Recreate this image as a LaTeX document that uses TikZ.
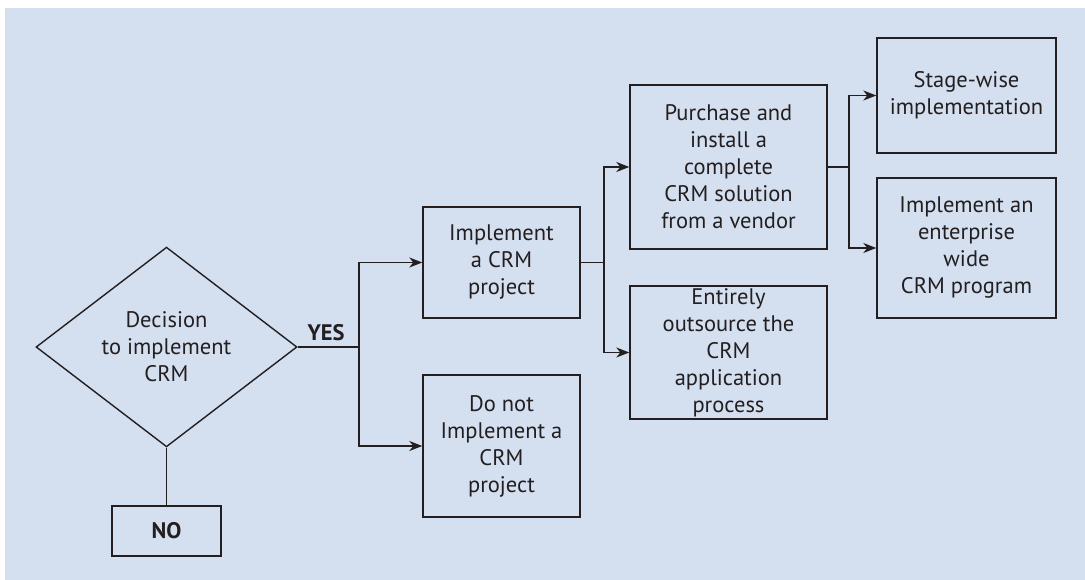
\documentclass[tikz,border=0pt]{standalone}
\usepackage{fontspec}
\setmainfont{PT Sans}
\usetikzlibrary{shapes.geometric,arrows.meta}
\definecolor{bg}{HTML}{D4DFF0}
\definecolor{ink}{HTML}{231F20}
\begin{document}
\begin{tikzpicture}[x=1pt,y=-1pt,
 box/.style={draw=ink,line width=1.4pt,align=center,text=ink,inner sep=0pt,font=\fontsize{22.5}{27}\selectfont},
 lbl/.style={text=ink,inner sep=0pt,font=\fontsize{22.5}{27}\selectfont\bfseries},
 conn/.style={draw=ink,line width=1.4pt},
 arr/.style={conn,-{Stealth[length=13pt,width=10pt,inset=4pt]}}]
\useasboundingbox (0,0) rectangle (1085,580);
\fill[bg] (5,8) rectangle (1085,580);
\node[box,diamond,minimum width=261,minimum height=198] (dec) at (166.5,347) {Decision\\to implement\\CRM};
\node[box,minimum width=109,minimum height=50] (no) at (166.5,531) {\bfseries NO};
\node[box,minimum width=157,minimum height=111] (impl) at (501.5,262.5) {Implement\\a CRM\\project};
\node[box,minimum width=157,minimum height=142] (dont) at (501.5,446) {Do not\\Implement a\\CRM\\project};
\node[box,minimum width=197,minimum height=164] (buy) at (728.5,167) {Purchase and\\install a\\complete\\CRM solution\\from a vendor};
\node[box,minimum width=197,minimum height=133] (out) at (728.5,352.5) {Entirely\\outsource the\\CRM\\application\\process};
\node[box,minimum width=179,minimum height=115] (stage) at (966.5,95.5) {Stage-wise\\implementation};
\node[box,minimum width=179,minimum height=140] (ent) at (966.5,248) {Implement an\\enterprise\\wide\\CRM program};
\node[lbl] (yes) at (326,333) {YES};
\coordinate (j1) at (359,347);
\coordinate (j2) at (604,262.5);
\coordinate (j3) at (849,167);
\draw[conn] (dec.east) -- (j1);
\draw[arr] (j1) |- (impl.west);
\draw[arr] (j1) |- (dont.west);
\draw[conn] (dec.south) -- (no.north);
\draw[conn] (impl.east) -- (j2);
\draw[arr] (j2) |- (buy.west);
\draw[arr] (j2) |- (out.west);
\draw[conn] (buy.east) -- (j3);
\draw[arr] (j3) |- (stage.west);
\draw[arr] (j3) |- (ent.west);
\end{tikzpicture}
\end{document}
